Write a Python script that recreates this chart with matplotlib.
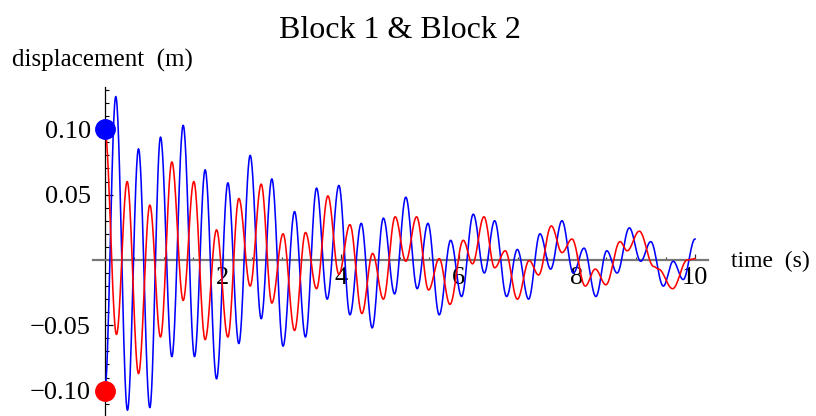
import matplotlib
matplotlib.use('Agg')
import matplotlib.pyplot as plt
import numpy as np
from matplotlib.ticker import MultipleLocator, FixedLocator, FixedFormatter

plt.rcParams['font.family'] = ['Liberation Serif', 'DejaVu Serif']

# turning points (time in s, displacement in m)
blue_t = [0, 0.186, 0.384, 0.571, 0.763, 0.944, 1.136, 1.328, 1.52, 1.70,
          1.893, 2.085, 2.271, 2.463, 2.65, 2.83, 3.02, 3.215, 3.40, 3.588,
          3.768, 3.966, 4.153, 4.345, 4.53, 4.72, 4.91, 5.10, 5.293, 5.475,
          5.666, 5.86, 6.045, 6.243, 6.43, 6.605, 6.808, 6.99, 7.18, 7.373,
          7.554, 7.746, 7.938, 8.12, 8.32, 8.505, 8.68, 8.887, 9.08, 9.25,
          9.463, 9.63, 9.80, 10.0]
blue_v = [-0.100, 0.125, -0.115, 0.085, -0.113, 0.094, -0.074, 0.103, -0.074, 0.069,
          -0.091, 0.059, -0.064, 0.080, -0.045, 0.062, -0.066, 0.037, -0.059, 0.055,
          -0.030, 0.057, -0.042, 0.028, -0.052, 0.032, -0.026, 0.048, -0.022, 0.028,
          -0.042, 0.015, -0.028, 0.035, -0.010, 0.030, -0.028, 0.008, -0.030, 0.020,
          -0.007, 0.030, -0.010, 0.009, -0.028, 0.007, -0.010, 0.0245, -0.001, 0.014,
          -0.020, -0.001, -0.015, 0.016]

red_t = [0, 0.198, 0.379, 0.571, 0.763, 0.944, 1.136, 1.328, 1.508, 1.70,
         1.893, 2.085, 2.271, 2.463, 2.65, 2.83, 3.02, 3.215, 3.40, 3.588,
         3.78, 3.966, 4.153, 4.356, 4.537, 4.72, 4.92, 5.10, 5.283, 5.486,
         5.666, 5.847, 6.073, 6.23, 6.424, 6.605, 6.785, 6.99, 7.19, 7.35,
         7.565, 7.746, 7.915, 8.14, 8.31, 8.49, 8.73, 8.85, 9.056, 9.30,
         9.38, 9.62, 9.87, 10.0]
red_v = [0.100, -0.057, 0.060, -0.087, 0.042, -0.059, 0.075, -0.031, 0.060, -0.061,
         0.023, -0.059, 0.047, -0.020, 0.058, -0.033, 0.020, -0.054, 0.021, -0.022,
         0.049, -0.011, 0.027, -0.041, 0.005, -0.030, 0.033, -0.001, 0.033, -0.023,
         0.001, -0.034, 0.015, -0.003, 0.033, -0.006, 0.007, -0.030, -0.0005, -0.0115,
         0.026, 0.0056, 0.016, -0.020, -0.007, -0.019, 0.014, 0.007, 0.022, -0.005,
         -0.007, -0.022, 0.000, 0.001]

start_points = [(0, 0.10, 'blue'), (0, -0.10, 'red')]

x_ticks = [2, 4, 6, 8, 10]
y_ticks = [-0.10, -0.05, 0.05, 0.10]
y_labels = ['\u22120.10', '\u22120.05', '0.05', '0.10']


def swing(t, v, n=30):
    # half-cosine swing between consecutive turning points
    ts, vs = [t[0]], [v[0]]
    for i in range(len(t) - 1):
        s = np.linspace(0, 1, n)[1:]
        ts.extend(t[i] + (t[i + 1] - t[i]) * s)
        vs.extend(v[i] + (v[i + 1] - v[i]) * (1 - np.cos(np.pi * s)) / 2)
    return np.array(ts), np.array(vs)


W, H = 816, 416
fig = plt.figure(figsize=(W / 100, H / 100), dpi=100)
ax = fig.add_axes([93 / W, 0, 615 / W, 329 / H])
ax.set_xlim(-0.2, 10.22)
ax.set_ylim(-0.1194, 0.1323)

ax.plot(*swing(blue_t, blue_v), color='#0000ff', lw=1.15, zorder=3)
ax.plot(*swing(red_t, red_v), color='#ff0000', lw=1.15, zorder=3)
for x, y, c in start_points:
    ax.plot(x, y, 'o', color=c, markersize=14, zorder=5, clip_on=False)

for side in ['top', 'right']:
    ax.spines[side].set_visible(False)
ax.spines['left'].set_position(('data', 0))
ax.spines['bottom'].set_position(('data', 0))
ax.spines['left'].set_color('black')
ax.spines['left'].set_linewidth(0.9)
ax.spines['bottom'].set_color('#777777')
ax.spines['bottom'].set_linewidth(1.6)

ax.xaxis.set_major_locator(FixedLocator(x_ticks))
ax.xaxis.set_minor_locator(MultipleLocator(0.5))
ax.yaxis.set_major_locator(FixedLocator(y_ticks))
ax.yaxis.set_major_formatter(FixedFormatter(y_labels))
ax.yaxis.set_minor_locator(MultipleLocator(0.01))

ax.tick_params(axis='x', which='major', direction='in', length=4, width=0.9,
               color='#333333', labelsize=19, pad=5)
ax.tick_params(axis='x', which='minor', direction='in', length=2.5, width=0.8,
               color='#333333')
ax.tick_params(axis='y', which='major', direction='in', length=6, width=0.9,
               labelsize=19, pad=10)
ax.tick_params(axis='y', which='minor', direction='in', length=3, width=0.8)
ax.patch.set_alpha(0)

fig.text(400 / W, 1 - 31 / H, 'Block 1 & Block 2', fontsize=23,
         ha='center', va='center')
fig.text(12 / W, 1 - 67 / H, 'displacement  (m)', fontsize=18,
         ha='left', va='baseline')
fig.text(731 / W, 1 - 267 / H, 'time  (s)', fontsize=17,
         ha='left', va='baseline')

fig.savefig('out.png', dpi=100)
